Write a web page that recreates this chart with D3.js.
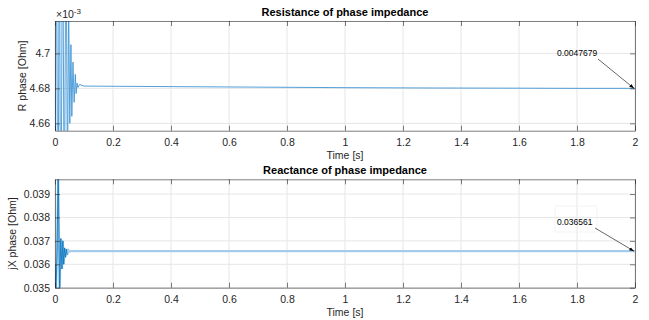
<!DOCTYPE html>
<html>
<head>
<meta charset="utf-8">
<script src="https://cdn.jsdelivr.net/npm/d3@7"></script>
<style>
  body { margin: 0; background: #fff; }
  svg { font-family: "Liberation Sans", Arial, sans-serif; }
</style>
</head>
<body>
<svg id="chart"></svg>
<script>
const width = 649;
const height = 320;

// time [s] ticks
const timeTicks = [0, 0.2, 0.4, 0.6, 0.8, 1, 1.2, 1.4, 1.6, 1.8, 2];

// resistance of phase impedance [Ohm]
const rTime  = [0, 0.005, 0.01, 0.015, 0.02, 0.026, 0.032, 0.038, 0.043, 0.047, 0.051, 0.055,
                0.058, 0.062, 0.066, 0.07, 0.073, 0.076, 0.079, 0.085, 0.1, 0.3, 0.5, 0.8, 1.0, 1.3, 1.6, 1.8, 2.0];
const rValue = [0.00460, 0.00480, 0.00455, 0.00480, 0.00455, 0.00480, 0.00460, 0.00478, 0.00462,
                0.00473, 0.00466, 0.004705, 0.004664, 0.004695, 0.004672, 0.004688, 0.004677, 0.004683,
                0.0046805, 0.0046822, 0.0046813, 0.0046811, 0.0046809, 0.0046806, 0.0046804, 0.0046802,
                0.0046801, 0.0046800, 0.0046800];
const rTicks = [0.00466, 0.00468, 0.0047];
const rLabel = "0.0047679";

// reactance of phase impedance [Ohm]
const xTime  = [0, 0.003, 0.007, 0.011, 0.016, 0.02, 0.024, 0.027, 0.03, 0.033, 0.036, 0.039, 0.042, 0.046, 0.05,
                0.055, 0.07, 0.5, 1.0, 1.5, 2.0];
const xValue = [0.0360, 0.0347, 0.0365, 0.0400, 0.0347, 0.0371, 0.0358, 0.0370, 0.0360, 0.0367, 0.0363, 0.03665,
                0.0364, 0.03660, 0.03654, 0.036565, 0.036561, 0.036561, 0.036561, 0.036561, 0.036561];
const xTicks = [0.035, 0.036, 0.037, 0.038, 0.039];
const xLabel = "0.036561";

const svg = d3.select("#chart").attr("width", width).attr("height", height);

const defs = svg.append("defs");
defs.append("marker")
    .attr("id", "arrow")
    .attr("viewBox", "0 0 10 10")
    .attr("refX", 10).attr("refY", 5)
    .attr("markerWidth", 8).attr("markerHeight", 8)
    .attr("orient", "auto")
    .append("path").attr("d", "M0,1.5 L10,5 L0,8.5 Z").attr("fill", "#000");

function panel(cfg) {
    const x = d3.scaleLinear().domain([0, 2]).range([55, 635]);
    const y = d3.scaleLinear().domain(cfg.yDomain).range([cfg.bottom, cfg.top]);
    const g = svg.append("g");

    defs.append("clipPath").attr("id", cfg.id)
        .append("rect").attr("x", 55).attr("y", cfg.top)
        .attr("width", 580).attr("height", cfg.bottom - cfg.top);

    // grid
    g.selectAll(".vgrid").data(timeTicks).enter().append("line")
     .attr("x1", d => x(d)).attr("x2", d => x(d))
     .attr("y1", cfg.top).attr("y2", cfg.bottom)
     .attr("stroke", "#e6e6e6").attr("stroke-width", 1);
    g.selectAll(".hgrid").data(cfg.yTicks).enter().append("line")
     .attr("x1", 55).attr("x2", 635)
     .attr("y1", d => y(d)).attr("y2", d => y(d))
     .attr("stroke", "#e6e6e6").attr("stroke-width", 1);

    // data
    const line = d3.line().x(d => x(d[0])).y(d => y(d[1]));
    const pts = cfg.t.map((t, i) => [t, cfg.v[i]]);
    const lines = g.append("g").attr("clip-path", `url(#${cfg.id})`);
    lines.append("path").datum(pts)
         .attr("d", line).attr("fill", "none")
         .attr("stroke", cfg.color).attr("stroke-width", cfg.lineWidth);
    if (cfg.dark) {
        lines.append("path").datum(pts.filter(d => d[0] <= 0.045))
             .attr("d", line).attr("fill", "none")
             .attr("stroke", "#0072bd").attr("stroke-width", 0.8);
    }

    // axes (ticks point inward, box on)
    const fmtX = d => d3.format("~g")(d);
    const axisStyle = sel => {
        sel.select(".domain").attr("stroke", "#262626").attr("stroke-width", 0.6);
        sel.selectAll(".tick line").attr("stroke", "#262626").attr("stroke-width", 0.6);
        sel.selectAll(".tick text").attr("fill", "#262626").style("font-size", "10.5px");
    };
    g.append("g").attr("transform", `translate(0,${cfg.bottom})`)
     .call(d3.axisBottom(x).tickValues(timeTicks).tickFormat(fmtX).tickSizeInner(-5).tickSizeOuter(0).tickPadding(8))
     .call(axisStyle);
    g.append("g").attr("transform", `translate(0,${cfg.top})`)
     .call(d3.axisTop(x).tickValues(timeTicks).tickFormat("").tickSizeInner(-5).tickSizeOuter(0))
     .call(axisStyle);
    g.append("g").attr("transform", "translate(55,0)")
     .call(d3.axisLeft(y).tickValues(cfg.yTicks).tickFormat(cfg.yFormat).tickSizeInner(-5).tickSizeOuter(0).tickPadding(5))
     .call(axisStyle);
    g.append("g").attr("transform", "translate(635,0)")
     .call(d3.axisRight(y).tickValues(cfg.yTicks).tickFormat("").tickSizeInner(-5).tickSizeOuter(0))
     .call(axisStyle);

    // texts
    svg.append("text").attr("x", 345).attr("y", cfg.top - 5)
       .attr("text-anchor", "middle").attr("font-weight", "bold")
       .style("font-size", "11px").attr("fill", "#000").text(cfg.title);
    svg.append("text").attr("x", 345).attr("y", cfg.bottom + 28)
       .attr("text-anchor", "middle").style("font-size", "10.5px").attr("fill", "#262626").text("Time [s]");
    svg.append("text")
       .attr("transform", `translate(${cfg.ylabelX},${(cfg.top + cfg.bottom) / 2}) rotate(-90)`)
       .attr("text-anchor", "middle").style("font-size", "10.5px").attr("fill", "#262626").text(cfg.ylabel);

    // annotation arrow to last point
    const last = pts[pts.length - 1];
    const tx = 557, ty = cfg.annY;
    if (cfg.box) {
        svg.append("rect").attr("x", tx - 2).attr("y", ty - 19).attr("width", 42).attr("height", 26)
           .attr("fill", "none").attr("stroke", "#f0f0f0").attr("stroke-width", 0.8);
    }
    svg.append("text").attr("x", tx).attr("y", ty)
       .style("font-size", "8.5px").attr("fill", "#000").text(cfg.annText);
    svg.append("line")
       .attr("x1", cfg.arrowFrom[0]).attr("y1", cfg.arrowFrom[1])
       .attr("x2", x(last[0]) - 1).attr("y2", y(last[1]))
       .attr("stroke", "#000").attr("stroke-width", 0.6)
       .attr("marker-end", "url(#arrow)");
    return {x, y};
}

panel({
    id: "clipR", top: 21, bottom: 130.7, yDomain: [0.0046558, 0.0047185],
    yTicks: rTicks, yFormat: d => +(d * 1000).toFixed(2) + "",
    t: rTime, v: rValue, color: "#3f95d6", lineWidth: 0.9, dark: false,
    title: "Resistance of phase impedance", ylabel: "R phase [Ohm]", ylabelX: 26,
    annText: rLabel, annY: 56, arrowFrom: [598, 59], box: false
});

panel({
    id: "clipX", top: 179.3, bottom: 287.7, yDomain: [0.035, 0.03963],
    yTicks: xTicks, yFormat: d => d3.format(".3f")(d),
    t: xTime, v: xValue, color: "#a3cdea", lineWidth: 2.2, dark: true,
    title: "Reactance of phase impedance", ylabel: "jX phase [Ohm]", ylabelX: 16,
    annText: xLabel, annY: 225, arrowFrom: [595, 228], box: true
});

// exponent label of top axis
const ex = svg.append("text").attr("x", 56).attr("y", 18).style("font-size", "10.5px").attr("fill", "#262626");
ex.append("tspan").text("\u00d710");
ex.append("tspan").attr("dy", -4).style("font-size", "8px").text("-3");
</script>
</body>
</html>
